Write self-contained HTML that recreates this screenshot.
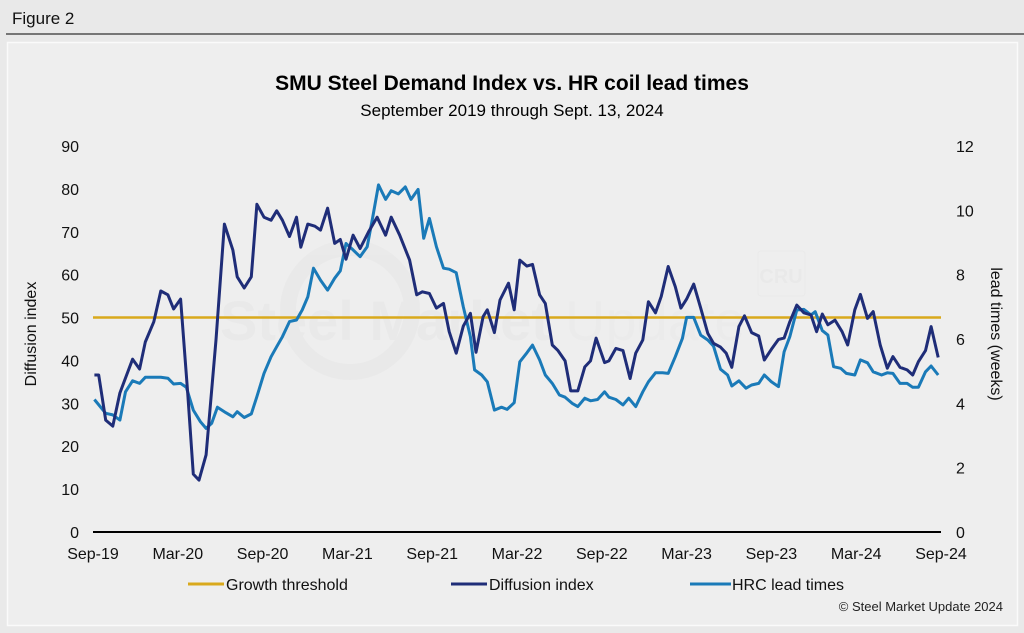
<!DOCTYPE html>
<html><head><meta charset="utf-8"><style>
html,body{margin:0;padding:0;background:#e9e9e9;}
body{width:1024px;height:633px;overflow:hidden;font-family:"Liberation Sans",Arial,sans-serif;}
svg{position:absolute;left:0;top:0;}
</style></head><body>
<svg id="chart" width="1024" height="633" viewBox="0 0 1024 633">
<rect x="0" y="0" width="1024" height="633" fill="#e9e9e9"/>
<text x="12" y="24" font-size="17" fill="#111">Figure 2</text>
<line x1="6" y1="34" x2="1024" y2="34" stroke="#333" stroke-width="1.2"/>
<rect x="7.5" y="42.5" width="1010" height="583" fill="#eeeeee" stroke="#fafafa" stroke-width="1.5"/>
<text x="512" y="90" text-anchor="middle" font-size="21" font-weight="bold" fill="#000">SMU Steel Demand Index vs. HR coil lead times</text>
<text x="512" y="116" text-anchor="middle" font-size="17" fill="#000">September 2019 through Sept. 13, 2024</text>
<g opacity="0.35">
<circle cx="350" cy="310" r="62" fill="none" stroke="#e2e2e2" stroke-width="16"/>
<text x="220" y="340" font-size="56" font-weight="bold" fill="#e2e2e2">Steel Market</text>
<text x="565" y="340" font-size="56" fill="#e6e6e6">Update</text>
<rect x="758" y="251" width="47" height="45" rx="3" fill="none" stroke="#e2e2e2"/>
<text x="781" y="283" text-anchor="middle" font-size="20" font-weight="bold" fill="#e0e0e0">CRU</text>
</g>
<g id="axes"></g>
<g id="series"></g>
<text transform="translate(36,334) rotate(-90)" text-anchor="middle" font-size="16" fill="#111">Diffusion index</text>
<text transform="translate(991,334) rotate(90)" text-anchor="middle" font-size="16" fill="#111">lead times (weeks)</text>
<g>
<g><line x1="188" y1="584" x2="224" y2="584" stroke="#d9a91c" stroke-width="3"/><text x="226" y="590" font-size="16" fill="#111">Growth threshold</text></g>
<g><line x1="451" y1="584" x2="487" y2="584" stroke="#1f2d78" stroke-width="3"/><text x="489" y="590" font-size="16" fill="#111">Diffusion index</text></g>
<g><line x1="690" y1="584" x2="731" y2="584" stroke="#1a7ab8" stroke-width="3"/><text x="732" y="590" font-size="16" fill="#111">HRC lead times</text></g>
</g>
<text x="1003" y="611" text-anchor="end" font-size="13" fill="#222">© Steel Market Update 2024</text>
</svg>
<script>
// months since Sep-2019 and values
const diMonths=[0.1,0.4,0.9,1.4,1.9,2.3,2.8,3.3,3.7,4.3,4.8,5.3,5.7,6.2,6.7,7.1,7.5,8.0,8.7,9.3,9.9,10.2,10.7,11.2,11.6,12.1,12.6,13.0,13.4,13.9,14.4,14.7,15.2,15.7,16.1,16.6,17.1,17.5,17.9,18.4,18.9,19.5,20.1,20.7,21.1,21.7,22.4,22.9,23.3,23.8,24.3,24.8,25.2,25.7,26.2,26.7,27.1,27.6,27.9,28.4,28.8,29.4,29.8,30.2,30.7,31.1,31.6,32.0,32.5,32.9,33.4,33.8,34.3,34.8,35.2,35.6,36.2,36.5,37.0,37.5,38.0,38.4,38.9,39.3,39.8,40.2,40.7,41.2,41.6,42.0,42.5,43.0,43.5,43.9,44.4,44.8,45.2,45.7,46.1,46.6,47.1,47.5,48.0,48.5,48.9,49.3,49.8,50.3,50.8,51.2,51.6,52.0,52.5,53.0,53.4,53.9,54.3,54.8,55.2,55.7,56.2,56.6,57.1,57.6,58.0,58.4,58.9,59.3,59.8];
const diValues=[36.6,36.6,26.1,24.7,32.4,35.9,40.3,38,44.3,49,56.2,55.3,52,54.3,32.4,13.5,12.1,18,44.8,71.8,65.7,59.5,56.9,59.5,76.4,73.4,72.7,74.9,72.7,68.9,73.4,66.4,71.8,71.3,70.4,75.5,67.3,68.2,63.6,69.2,66.1,70,73.4,69.2,73.4,69.2,63.4,55.3,56,55.6,52.2,53.3,46.7,41.7,48,51,41.9,50.2,51.8,46.5,54.1,58,51.8,63.4,62,62.4,55.3,53.3,43.6,42.3,39.9,32.9,32.9,38.5,39.9,45.2,39.5,39.9,42.8,42.3,35.8,41.7,44.8,53.7,51.1,54.9,61.9,57.2,52.2,54.3,57.8,52.2,46.3,44,43.1,41.7,38.4,47.9,50.4,46.5,45.7,40.1,42.6,44.9,45.2,49,52.9,51.1,50.6,46.7,50.8,48.3,49.4,46.7,43.6,51.8,55.4,49.8,51.4,43.6,38.2,40.9,38.4,37.8,36.6,39.7,42.3,47.9,40.7];
const hrcMonths=[0.1,0.9,1.4,1.9,2.3,2.8,3.3,3.7,4.8,5.3,5.7,6.2,6.6,7.1,7.6,8.0,8.4,8.8,9.4,9.9,10.2,10.7,11.2,11.6,12.1,12.6,13.0,13.4,13.9,14.4,14.8,15.2,15.6,16.1,16.6,17.1,17.5,17.9,18.4,18.9,19.4,19.8,20.2,20.7,21.1,21.6,22.1,22.5,23.0,23.4,23.8,24.3,24.8,25.2,25.7,26.2,26.7,27.0,27.5,27.9,28.4,28.9,29.3,29.8,30.2,30.7,31.1,31.6,32.0,32.5,33.0,33.4,33.9,34.3,34.8,35.2,35.7,36.2,36.5,37.0,37.5,37.9,38.4,38.9,39.3,39.8,40.3,40.7,41.2,41.7,42.0,42.5,43.0,43.5,43.9,44.4,44.9,45.2,45.7,46.2,46.6,47.1,47.5,48.0,48.5,48.9,49.3,49.8,50.3,50.8,51.1,51.6,52.0,52.4,52.9,53.3,53.9,54.3,54.8,55.2,55.8,56.2,56.6,57.1,57.6,58.0,58.4,58.9,59.3,59.8];
const hrcValues=[4.12,3.69,3.64,3.48,4.36,4.70,4.62,4.81,4.81,4.78,4.60,4.62,4.50,3.79,3.43,3.22,3.38,3.88,3.71,3.58,3.74,3.56,3.67,4.21,4.93,5.45,5.76,6.07,6.54,6.59,6.90,7.31,8.20,7.83,7.52,7.89,8.12,8.97,8.77,8.56,8.87,9.80,10.79,10.34,10.61,10.51,10.73,10.34,10.65,9.13,9.75,8.87,8.20,8.17,8.06,7.00,6.07,5.04,4.88,4.67,3.79,3.88,3.81,4.02,5.29,5.57,5.81,5.35,4.88,4.62,4.26,4.19,4.00,3.90,4.16,4.08,4.12,4.36,4.19,4.12,3.95,4.16,3.90,4.36,4.67,4.95,4.95,4.93,5.45,6.02,6.67,6.67,6.12,5.97,5.78,5.06,4.88,4.54,4.70,4.47,4.57,4.62,4.88,4.67,4.52,5.60,6.07,6.90,6.92,6.75,6.85,6.26,6.12,5.14,5.09,4.93,4.88,5.35,5.26,4.98,4.88,4.95,4.93,4.62,4.62,4.50,4.50,4.98,5.16,4.88];
const threshold=[50];
const xTickLabels=["Sep-19","Mar-20","Sep-20","Mar-21","Sep-21","Mar-22","Sep-22","Mar-23","Sep-23","Mar-24","Sep-24"];
const leftTicks=[0,10,20,30,40,50,60,70,80,90];
const rightTicks=[0,2,4,6,8,10,12];

const X0=93,X1=941,Y0=532,Y1=146;
const x=m=>X0+m*(X1-X0)/60;
const yL=v=>Y0-v*(Y0-Y1)/90;
const yR=w=>Y0-w*(Y0-Y1)/12;
const NS="http://www.w3.org/2000/svg";
const axes=document.getElementById('axes'),series=document.getElementById('series');
function mk(tag,attrs,parent){const e=document.createElementNS(NS,tag);for(const k in attrs)e.setAttribute(k,attrs[k]);parent.appendChild(e);return e;}

leftTicks.forEach(v=>{const t=mk('text',{x:79,y:yL(v)+6,'text-anchor':'end','font-size':16,fill:'#111'},axes);t.textContent=v;

});
rightTicks.forEach(v=>{const t=mk('text',{x:956,y:yR(v)+6,'text-anchor':'start','font-size':16,fill:'#111'},axes);t.textContent=v;

});
xTickLabels.forEach((l,i)=>{const t=mk('text',{x:x(i*6),y:559,'text-anchor':'middle','font-size':16,fill:'#111'},axes);t.textContent=l;

});
const ax=mk('line',{x1:X0,y1:Y0,x2:X1,y2:Y0,stroke:'#000','stroke-width':2},axes);



const th=mk('line',{x1:X0,y1:yL(threshold[0]),x2:X1,y2:yL(threshold[0]),stroke:'#d9a91c','stroke-width':2.5},series);



const hp=mk('polyline',{points:hrcMonths.map((m,i)=>x(m).toFixed(1)+','+yR(hrcValues[i]).toFixed(1)).join(' '),fill:'none',stroke:'#1a7ab8','stroke-width':3,'stroke-linejoin':'round'},series);


const dp=mk('polyline',{points:diMonths.map((m,i)=>x(m).toFixed(1)+','+yL(diValues[i]).toFixed(1)).join(' '),fill:'none',stroke:'#1f2d78','stroke-width':3,'stroke-linejoin':'round'},series);


</script>
</body></html>
